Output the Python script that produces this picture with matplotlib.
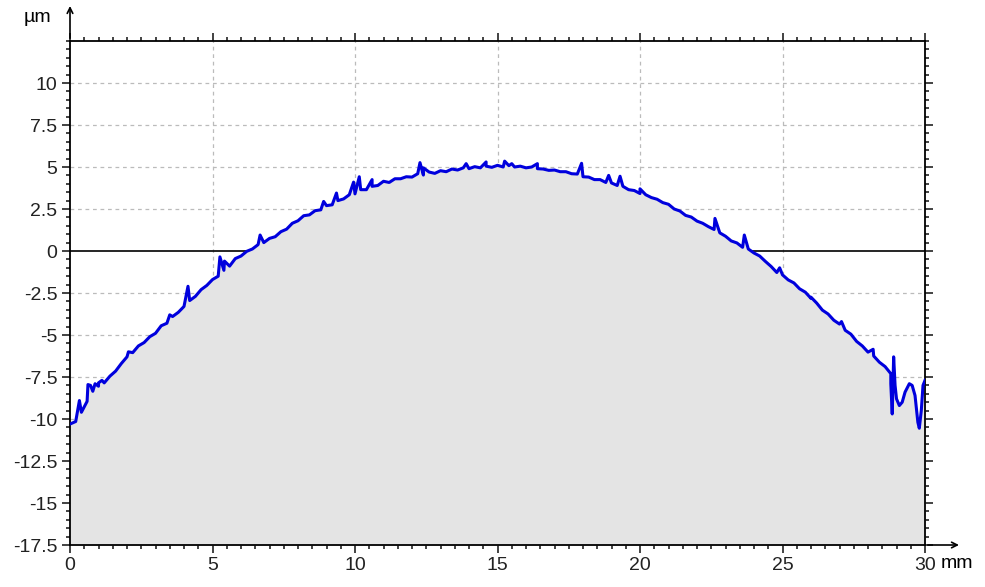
import numpy as np
import matplotlib.pyplot as plt
from matplotlib.ticker import MultipleLocator

plt.rcParams['font.family'] = ['Liberation Sans', 'DejaVu Sans']

# profile, every 0.2 mm (um)
x_mm = [i * 0.2 for i in range(145)]
z_um = [-10.3, -10.15, -9.6, -8.95, -8.35, -8.05, -7.85, -7.45, -7.15, -6.7,
        -6.3, -6.05, -5.65, -5.45, -5.1, -4.9, -4.45, -4.3, -3.9, -3.65,
        -3.3, -2.95, -2.7, -2.3, -2.05, -1.7, -1.5, -1.15, -0.9, -0.45,
        -0.3, -0.02, 0.12, 0.38, 0.5, 0.75, 0.85, 1.15, 1.3, 1.65,
        1.8, 2.1, 2.15, 2.4, 2.45, 2.7, 2.75, 3.0, 3.1, 3.35,
        3.4, 3.65, 3.65, 3.85, 3.9, 4.15, 4.08, 4.3, 4.3, 4.42,
        4.4, 4.6, 4.52, 4.7, 4.62, 4.78, 4.72, 4.88, 4.82, 4.95,
        4.9, 5.02, 4.95, 5.05, 4.98, 5.1, 5.0, 5.08, 5.0, 5.05,
        4.95, 5.0, 4.9, 4.88, 4.8, 4.82, 4.72, 4.72, 4.6, 4.58,
        4.42, 4.4, 4.25, 4.25, 4.08, 4.05, 3.9, 3.85, 3.65, 3.6,
        3.42, 3.35, 3.18, 3.08, 2.88, 2.78, 2.5, 2.38, 2.12, 2.02,
        1.78, 1.65, 1.45, 1.28, 1.08, 0.88, 0.6, 0.48, 0.22, 0.12,
        -0.12, -0.3, -0.62, -0.92, -1.28, -1.42, -1.72, -1.9, -2.25, -2.45,
        -2.82, -3.1, -3.52, -3.75, -4.12, -4.35, -4.72, -4.95, -5.38, -5.65,
        -6.02, -6.25, -6.62, -6.88, -7.3]

# end of the trace, where the probe ran off the edge
tail_x = [28.8, 28.85, 28.9, 28.95, 29.0, 29.1, 29.2, 29.3, 29.45, 29.55,
          29.65, 29.75, 29.8, 29.87, 29.93, 30.0]
tail_z = [-7.9, -9.7, -6.3, -8.0, -8.8, -9.2, -9.0, -8.4, -7.9, -8.0,
          -8.6, -10.2, -10.55, -9.5, -8.0, -7.7]

# spikes above the trace
spike_x = [0.33, 0.63, 0.72, 0.88, 1.0, 1.12, 2.05, 3.5, 4.14, 5.26,
           5.42, 6.67, 8.9, 9.35, 9.95, 10.15, 10.6, 12.28, 12.4, 13.9,
           14.6, 15.25, 15.5, 16.4, 17.95, 18.9, 19.3, 20.0, 22.63, 23.66,
           24.9, 26.0, 27.07, 28.18]
spike_z = [-8.9, -7.95, -8.0, -7.9, -7.85, -7.7, -6.0, -3.8, -2.1, -0.35,
           -0.6, 0.95, 2.95, 3.45, 4.1, 4.42, 4.25, 5.26, 4.95, 5.2,
           5.3, 5.35, 5.2, 5.2, 5.22, 4.5, 4.45, 3.7, 1.94, 0.95,
           -1.0, -2.75, -4.2, -5.85]

x = np.concatenate([x_mm, tail_x, spike_x])
z = np.concatenate([z_um, tail_z, spike_z])
order = np.argsort(x, kind='stable')
x, z = x[order], z[order]

fig = plt.figure(figsize=(9.85, 5.87), dpi=100)
ax = fig.add_axes([70 / 985, 42 / 587, 855 / 985, 504 / 587])

ax.set_xlim(0, 30)
ax.set_ylim(-17.5, 12.5)

ax.set_axisbelow(True)
ax.axhline(0, color='black', lw=1.2, zorder=0.8)
ax.fill_between(x, z, -17.5, color='#e4e4e4', lw=0, zorder=1)
ax.plot(x, z, color='#0000dd', lw=2.2, zorder=3)

ax.set_xticks([0, 5, 10, 15, 20, 25, 30])
ax.set_xticklabels(['0', '5', '10', '15', '20', '25', '30'])
ax.set_yticks(np.arange(-17.5, 10.1, 2.5))
ax.set_yticklabels(['-17.5', '-15', '-12.5', '-10', '-7.5', '-5', '-2.5',
                    '0', '2.5', '5', '7.5', '10'])
ax.xaxis.set_minor_locator(MultipleLocator(0.5))
ax.yaxis.set_minor_locator(MultipleLocator(0.5))
ax.tick_params(which='both', direction='out', top=True, right=True,
               labelsize=14, colors='#222222', width=1.2)
ax.tick_params(which='major', length=6, pad=3)
ax.tick_params(which='minor', length=3)

for xv in [5, 10, 15, 20, 25]:
    ax.axvline(xv, color='#bbbbbb', lw=0.9, ls=(0, (3, 3)), zorder=0.5)
for yv in [10, 7.5, 5, 2.5, -2.5, -5, -7.5, -10, -12.5, -15]:
    ax.axhline(yv, color='#bbbbbb', lw=0.9, ls=(0, (3, 3)), zorder=0.5)

for s in ax.spines.values():
    s.set_linewidth(1.3)

# axis arrows
ax.annotate('', xy=(0, 1.075), xytext=(0, 1.0), xycoords='axes fraction',
            arrowprops=dict(arrowstyle='->', lw=1.2, color='black'),
            annotation_clip=False)
ax.annotate('', xy=(1.043, 0), xytext=(1.0, 0), xycoords='axes fraction',
            arrowprops=dict(arrowstyle='->', lw=1.2, color='black'),
            annotation_clip=False)

fig.text(37 / 985, 1 - 18 / 587, 'µm', fontsize=14, ha='center', va='center')
fig.text(941 / 985, 1 - 563 / 587, 'mm', fontsize=14, ha='left', va='center')

fig.savefig('out.png', dpi=100)
